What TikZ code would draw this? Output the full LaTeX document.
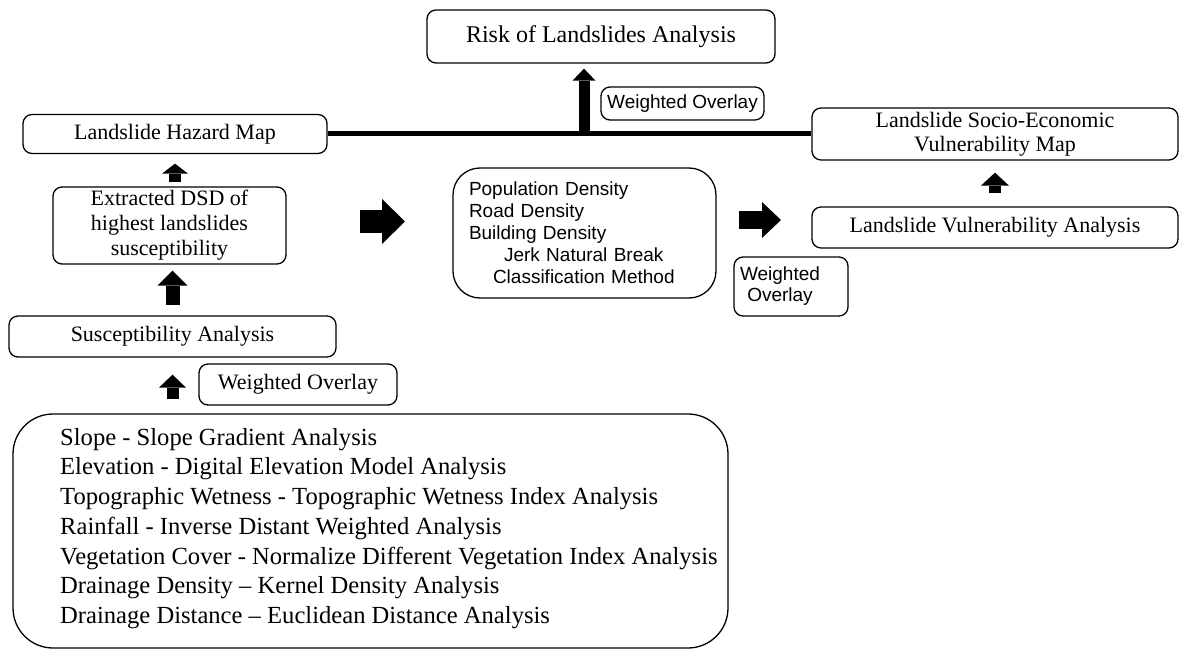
\documentclass[tikz,border=0pt]{standalone}
\usepackage{fontspec}
\setmainfont{Liberation Serif}
\newfontfamily\arialf{Liberation Sans}
\usetikzlibrary{arrows.meta}
\begin{document}
\begin{tikzpicture}[x=1pt,y=-1pt,
  box/.style={draw, line width=1.3pt, rounded corners=9pt, inner sep=0pt, align=center, font=\fontsize{22}{25}\selectfont},
  sbox/.style={box, font=\arialf\fontsize{19}{22}\selectfont},
  blockarrow/.style n args={3}{line width=#1, -{Triangle[width=#2, length=#3, line width=0pt]}},
  link/.style={line width=5pt}
]
\useasboundingbox (0,0) rectangle (1184,650);

% top
\node[box, font=\fontsize{24}{28}\selectfont, minimum width=348pt, minimum height=53pt] (risk) at (601,36.5) {Risk of Landslides Analysis};
\node[sbox, minimum width=163pt, minimum height=33pt] (wo1) at (682.5,103.5) {Weighted Overlay};

% left column
\node[box, minimum width=304pt, minimum height=39pt] (haz) at (175,134) {Landslide Hazard Map};
\node[box, minimum width=233pt, minimum height=77pt] (ext) at (169.5,225.5) {Extracted DSD of\\highest landslides\\susceptibility};
\node[box, minimum width=327pt, minimum height=41pt] (sus) at (172.5,336.5) {Susceptibility Analysis};
\node[box, minimum width=198pt, minimum height=41pt] (wo2) at (298,384.5) {Weighted Overlay};
\node[box, rounded corners=40pt, minimum width=715pt, minimum height=234pt] (inp) at (370.5,531) {};
\node[anchor=north west, inner sep=0pt, align=left, font=\fontsize{24.6}{29.7}\selectfont] (inptext) at (60,428)
  {Slope - Slope Gradient Analysis\\
   Elevation - Digital Elevation Model Analysis\\
   Topographic Wetness - Topographic Wetness Index Analysis\\
   Rainfall - Inverse Distant Weighted Analysis\\
   Vegetation Cover - Normalize Different Vegetation Index Analysis\\
   Drainage Density -- Kernel Density Analysis\\
   Drainage Distance -- Euclidean Distance Analysis};

% centre
\node[sbox, rounded corners=27pt, minimum width=263pt, minimum height=130pt, text width=231pt, inner xsep=16pt, align=left] (soc) at (584.5,233)
  {Population Density\\Road Density\\Building Density\\\hspace*{35pt}Jerk Natural Break\\\hspace*{24pt}Classification Method};

% right column
\node[box, font=\fontsize{22}{24}\selectfont, minimum width=366pt, minimum height=52pt] (sec) at (995,134) {Landslide Socio-Economic\\Vulnerability Map};
\node[box, minimum width=366pt, minimum height=41pt] (vul) at (995,227.5) {Landslide Vulnerability Analysis};
\node[sbox, font=\arialf\fontsize{19}{21}\selectfont, minimum width=114pt, minimum height=59pt] (wo3) at (791,286.5) {Weighted\rule{22pt}{0pt}\\Overlay\rule{22pt}{0pt}};

% connectors
\draw[link] (haz.east) -- (sec.west);
\coordinate (jn) at (584,134);
\draw[blockarrow={11pt}{23pt}{12pt}, shorten >=5pt] (jn) -- (jn |- risk.south);

\draw[blockarrow={12pt}{26pt}{10pt}, shorten <=4pt, shorten >=9.5pt] (haz.south |- ext.north) -- (haz.south);
\draw[blockarrow={14pt}{30pt}{15pt}, shorten <=10pt, shorten >=6pt] (sus.north) -- (sus.north |- ext.south);
\draw[blockarrow={12pt}{27pt}{13pt}, shorten <=14pt, shorten >=17pt] (sus.south |- inp.north) -- (sus.south);
\draw[blockarrow={12pt}{28pt}{13pt}, shorten <=13pt, shorten >=12pt] (vul.north) -- (sec.south);

\coordinate (r1a) at (360,221.5);
\coordinate (r1b) at (405,221.5);
\draw[blockarrow={23pt}{45pt}{23pt}] (r1a) -- (r1b);
\coordinate (r2a) at (739,220);
\coordinate (r2b) at (781,220);
\draw[blockarrow={18pt}{36pt}{19pt}] (r2a) -- (r2b);
\end{tikzpicture}
\end{document}
